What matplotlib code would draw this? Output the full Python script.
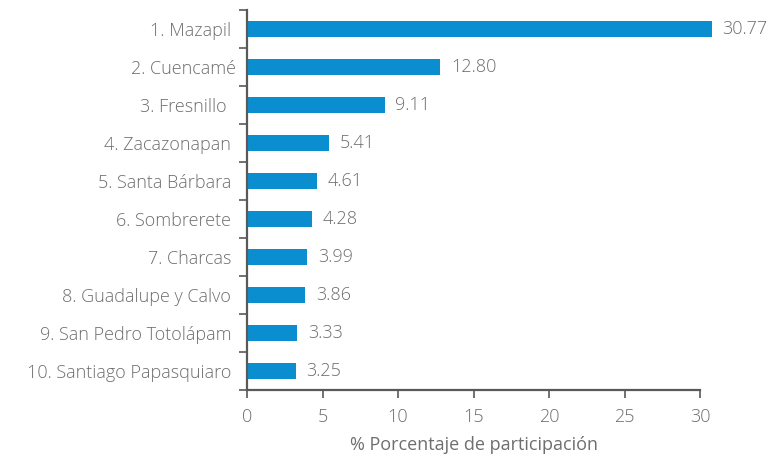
import matplotlib
matplotlib.use("Agg")
import matplotlib.pyplot as plt
import numpy as np

# Data
municipios = [
    "1. Mazapil ", "2. Cuencamé", "3. Fresnillo  ", "4. Zacazonapan ",
    "5. Santa Bárbara ", "6. Sombrerete ", "7. Charcas ",
    "8. Guadalupe y Calvo ", "9. San Pedro Totolápam ",
    "10. Santiago Papasquiaro ",
]
participacion = [30.77, 12.80, 9.11, 5.41, 4.61, 4.28, 3.99, 3.86, 3.33, 3.25]
x_ticks = [0, 5, 10, 15, 20, 25, 30]

bar_color = "#0b8ecf"
text_color = "#6e6e6e"
spine_color = "#595959"

plt.rcParams["font.family"] = ["Open Sans", "DejaVu Sans"]
plt.rcParams["font.weight"] = "light"

fig = plt.figure(figsize=(7.8, 4.58), dpi=100)
ax = fig.add_axes([247 / 780, 1 - 390 / 458, 453 / 780, 380 / 458])

n = len(municipios)
y = np.arange(n)
ax.barh(y, participacion, height=0.4, color=bar_color, clip_on=False)

# Value labels
for yi, v in zip(y, participacion):
    ax.text(v + 0.7, yi, f"{v:.2f}", va="center", ha="left",
            fontsize=13, color=text_color)

ax.set_xlim(0, 30)
ax.set_ylim(n - 0.5, -0.5)
ax.set_xticks(x_ticks)
ax.set_xticklabels([str(t) for t in x_ticks])

# Ticks at category boundaries, labels at centers
ax.set_yticks(np.arange(-0.5, n, 1.0))
ax.set_yticklabels([])
ax.set_yticks(y, minor=True)
ax.set_yticklabels(municipios, minor=True)
ax.tick_params(axis="y", which="major", length=6, width=1.2, color=spine_color)
ax.tick_params(axis="y", which="minor", length=0, pad=8,
               labelsize=13, labelcolor=text_color)
ax.tick_params(axis="x", length=6, width=1.2, color=spine_color,
               labelsize=13, labelcolor=text_color, pad=7)

for side in ["top", "right"]:
    ax.spines[side].set_visible(False)
for side in ["left", "bottom"]:
    ax.spines[side].set_color(spine_color)
    ax.spines[side].set_linewidth(1.6)

ax.set_xlabel("% Porcentaje de participación", fontsize=13,
              color=text_color, labelpad=7)

fig.savefig("out.png", dpi=100)
